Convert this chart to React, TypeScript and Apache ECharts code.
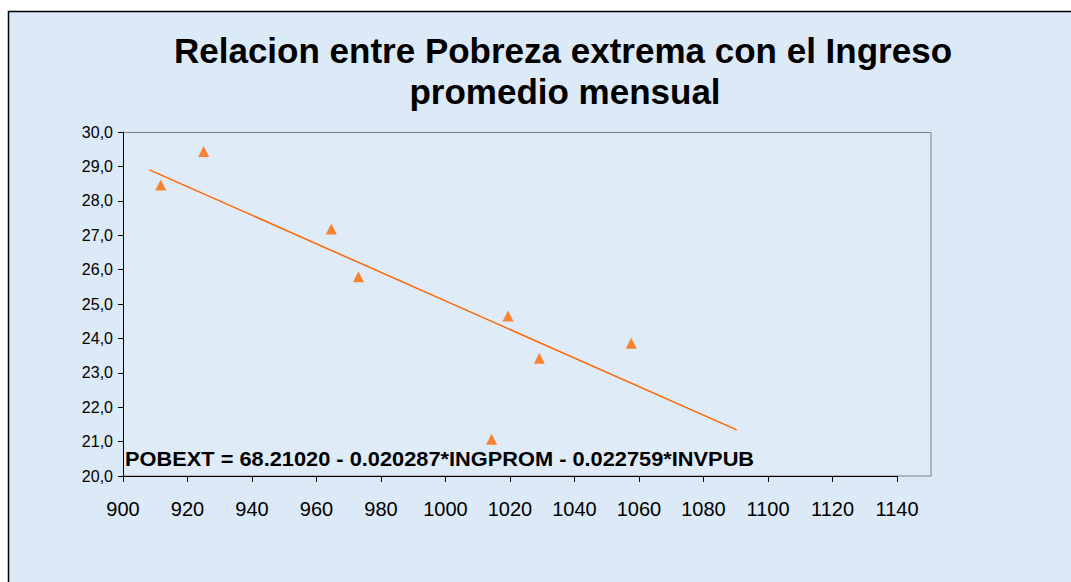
import React, { useEffect, useRef } from "react";
import * as echarts from "echarts";

const titleLines = ["Relacion entre Pobreza extrema con el Ingreso", "promedio mensual"];
const equationText = "POBEXT = 68.21020 - 0.020287*INGPROM - 0.022759*INVPUB";

// Ingreso promedio mensual (x) vs Pobreza extrema (y)
const ingresoPromedio = [911.7, 925.0, 964.6, 973.0, 1019.4, 1029.1, 1057.6, 1014.3];
const pobrezaExtrema = [28.46, 29.43, 27.18, 25.79, 24.65, 23.42, 23.86, 21.07];

// linear trend line endpoints
const trendX = [908.2, 1090.3];
const trendY = [28.9, 21.34];

const xMin = 900;
const xMax = 1140;
const xStep = 20;
const yMin = 20;
const yMax = 30;
const yStep = 1;

const FONT = "'Liberation Sans', Arial, sans-serif";

export default function App() {
  const ref = useRef<HTMLDivElement>(null);
  useEffect(() => {
    if (!ref.current) return;
    const chart = echarts.init(ref.current, null, { renderer: "svg" });
    const points = ingresoPromedio.map((x, i) => [x, pobrezaExtrema[i]]);
    const trend = trendX.map((x, i) => [x, trendY[i]]);
    chart.setOption({
      animation: false,
      backgroundColor: "#ffffff",
      graphic: [
        {
          type: "rect",
          z: -10,
          silent: true,
          shape: { x: 8.5, y: 11.5, width: 1100, height: 600 },
          style: { fill: "#dce9f6", stroke: "#000000", lineWidth: 1.5 },
        },
        {
          type: "rect",
          z: -5,
          silent: true,
          shape: { x: 123.5, y: 132.5, width: 807.5, height: 343.5 },
          style: { fill: "#dfebf7", stroke: "#808080", lineWidth: 1 },
        },
        {
          type: "text",
          x: 563,
          y: 50,
          style: {
            text: titleLines[0],
            font: `bold 35px ${FONT}`,
            fill: "#000000",
            align: "center",
            verticalAlign: "middle",
          },
        },
        {
          type: "text",
          x: 565,
          y: 91,
          style: {
            text: titleLines[1],
            font: `bold 35px ${FONT}`,
            fill: "#000000",
            align: "center",
            verticalAlign: "middle",
          },
        },
        {
          type: "text",
          x: 125,
          y: 459,
          scaleX: 1.09,
          z: 10,
          style: {
            text: equationText,
            font: `bold 20px ${FONT}`,
            fill: "#000000",
            align: "left",
            verticalAlign: "middle",
          },
        },
      ],
      grid: { left: 123, top: 132, right: 174, bottom: 106, containLabel: false },
      xAxis: {
        type: "value",
        min: xMin,
        max: xMax,
        interval: xStep,
        splitLine: { show: false },
        axisLine: { show: true, lineStyle: { color: "#000000", width: 1 } },
        axisTick: { show: true, length: 6, lineStyle: { color: "#000000" } },
        axisLabel: {
          color: "#000000",
          fontFamily: FONT,
          fontSize: 20,
          margin: 23,
          formatter: (v: number) => String(v),
        },
      },
      yAxis: {
        type: "value",
        min: yMin,
        max: yMax,
        interval: yStep,
        splitLine: { show: false },
        axisLine: { show: true, lineStyle: { color: "#000000", width: 1 } },
        axisTick: { show: true, length: 5, lineStyle: { color: "#000000" } },
        axisLabel: {
          color: "#000000",
          fontFamily: FONT,
          fontSize: 16,
          margin: 10,
          formatter: (v: number) => v.toFixed(1).replace(".", ","),
        },
      },
      series: [
        {
          type: "line",
          data: trend,
          symbol: "none",
          lineStyle: { color: "#ff6600", width: 1.5 },
          z: 2,
        },
        {
          type: "scatter",
          data: points,
          symbol: "triangle",
          symbolSize: 11,
          itemStyle: { color: "#ff6600" },
          z: 3,
        },
      ],
    });
    return () => chart.dispose();
  }, []);
  return (
    <div
      ref={ref}
      style={{ position: "absolute", left: 0, top: 0, width: 1071, height: 582 }}
    />
  );
}
